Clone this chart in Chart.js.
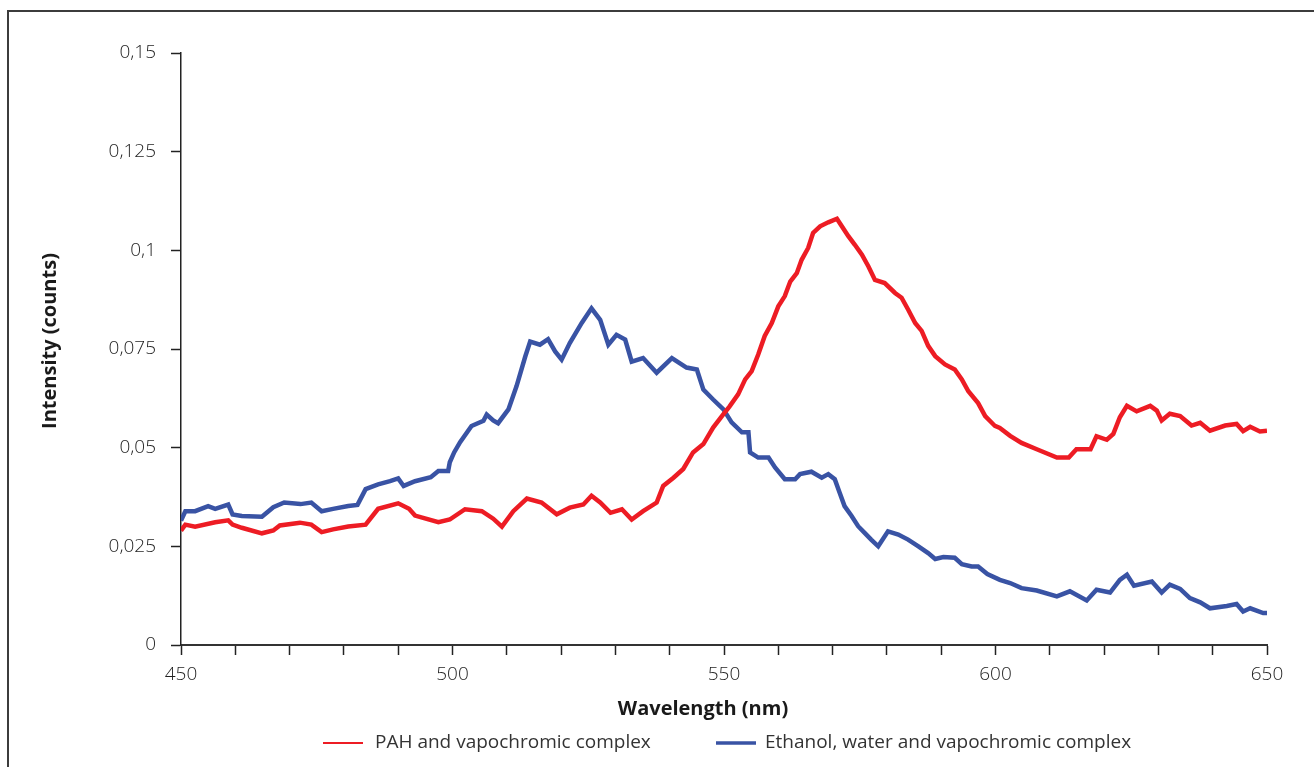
<!DOCTYPE html>
<html><head><meta charset="utf-8">
<script src="https://cdn.jsdelivr.net/npm/chart.js@4.4.0/dist/chart.umd.min.js"></script>
<style>html,body{margin:0;padding:0;background:#fff}canvas{display:block}</style>
</head><body>
<canvas id="c" width="1314" height="767"></canvas>
<script>
const seriesLabels = ['PAH and vapochromic complex', 'Ethanol, water and vapochromic complex'];
const xAxisTitle = 'Wavelength (nm)';
const yAxisTitle = 'Intensity (counts)';
const xLabeledTicks = [450, 500, 550, 600, 650];

const redWavelengths = [450.0,450.8,452.6,456.3,458.7,459.5,461.2,464.9,467.0,468.2,471.9,474.0,475.9,478.0,480.8,484.0,486.3,490.0,492.0,493.1,497.4,499.5,502.3,505.4,507.5,509.1,511.2,513.7,516.4,519.2,521.6,524.1,525.6,527.2,529.1,531.2,533.0,535.1,537.6,538.8,540.7,542.5,544.3,546.2,548.0,549.9,551.0,552.6,553.9,555.1,556.3,557.5,558.8,560.0,561.2,562.2,563.4,564.3,565.5,566.4,567.7,569.2,570.8,571.7,572.9,574.1,575.4,576.6,577.8,579.6,581.5,582.7,583.9,585.2,586.4,587.6,588.9,590.7,592.5,593.8,595.0,596.8,598.1,599.9,600.8,602.7,604.8,607.6,611.3,613.5,614.9,617.5,618.6,620.5,621.7,622.9,624.2,626.0,628.5,629.7,630.6,632.1,634.0,636.1,637.7,639.5,642.3,644.4,645.6,646.9,648.7,650.0];
const redValues = [0.0290,0.0305,0.0300,0.0311,0.0316,0.0305,0.0297,0.0283,0.0290,0.0303,0.0310,0.0305,0.0286,0.0293,0.0300,0.0305,0.0345,0.0359,0.0345,0.0328,0.0311,0.0318,0.0344,0.0339,0.0320,0.0300,0.0339,0.0371,0.0361,0.0331,0.0348,0.0356,0.0378,0.0361,0.0335,0.0344,0.0318,0.0339,0.0361,0.0403,0.0424,0.0446,0.0488,0.0509,0.0551,0.0585,0.0604,0.0635,0.0673,0.0694,0.0736,0.0783,0.0816,0.0858,0.0884,0.0921,0.0942,0.0976,0.1006,0.1044,0.1061,0.1071,0.1080,0.1061,0.1036,0.1014,0.0989,0.0959,0.0925,0.0917,0.0892,0.0880,0.0850,0.0816,0.0796,0.0758,0.0732,0.0711,0.0698,0.0673,0.0643,0.0613,0.0580,0.0555,0.0550,0.0530,0.0512,0.0496,0.0475,0.0475,0.0496,0.0496,0.0529,0.0520,0.0535,0.0577,0.0606,0.0592,0.0606,0.0594,0.0569,0.0586,0.0580,0.0556,0.0563,0.0543,0.0556,0.0560,0.0542,0.0553,0.0541,0.0543];

const blueWavelengths = [450.0,450.8,452.6,455.0,456.3,458.7,459.5,461.2,464.9,467.0,469.0,472.0,474.0,475.9,478.0,480.8,482.5,484.0,486.3,488.5,490.0,491.0,493.1,496.0,497.4,499.2,499.5,500.3,501.4,503.5,505.7,506.3,507.5,508.4,510.3,511.8,513.4,514.3,516.1,517.6,518.9,520.1,521.6,523.8,525.6,527.2,528.7,530.2,531.8,533.0,535.1,537.6,540.4,543.1,545.0,546.2,548.0,549.9,551.4,553.3,554.5,554.8,556.3,558.2,559.4,561.2,563.1,564.0,566.1,568.0,569.2,570.4,571.3,572.2,573.5,574.7,575.9,577.1,578.4,580.2,582.1,583.9,585.8,587.6,588.9,590.4,592.5,593.8,595.6,596.8,598.5,600.8,602.7,604.8,607.6,611.3,613.7,616.8,618.6,621.1,622.9,624.2,625.5,628.8,630.6,632.1,634.0,635.8,637.7,639.5,642.6,644.4,645.6,646.9,649.3,650.0];
const blueValues = [0.0315,0.0339,0.0339,0.0352,0.0345,0.0356,0.0331,0.0327,0.0325,0.0349,0.0361,0.0357,0.0361,0.0339,0.0345,0.0352,0.0355,0.0395,0.0407,0.0415,0.0422,0.0403,0.0415,0.0425,0.0441,0.0441,0.0463,0.0488,0.0514,0.0555,0.0568,0.0584,0.0569,0.0562,0.0597,0.0656,0.0731,0.0769,0.0761,0.0775,0.0744,0.0723,0.0765,0.0816,0.0853,0.0824,0.0761,0.0786,0.0774,0.0718,0.0727,0.0690,0.0727,0.0703,0.0698,0.0647,0.0622,0.0597,0.0564,0.0539,0.0539,0.0488,0.0475,0.0475,0.0450,0.0420,0.0420,0.0433,0.0439,0.0424,0.0433,0.0420,0.0386,0.0352,0.0327,0.0301,0.0284,0.0267,0.0250,0.0288,0.0280,0.0267,0.0250,0.0233,0.0218,0.0223,0.0221,0.0205,0.0199,0.0199,0.0180,0.0165,0.0157,0.0144,0.0138,0.0123,0.0136,0.0113,0.0140,0.0133,0.0165,0.0178,0.0150,0.0161,0.0133,0.0153,0.0142,0.0119,0.0108,0.0093,0.0099,0.0104,0.0085,0.0093,0.0081,0.0081];

const RED = '#ED1C24';
const BLUE = '#3953A4';
const TXT = '#1e1e1e';

function toPoints(xs, ys) { return xs.map((x, i) => ({x: x, y: ys[i]})); }

const decorPlugin = {
  id: 'decor',
  afterDraw(chart) {
    const ctx = chart.ctx;
    ctx.save();
    // frame
    ctx.strokeStyle = '#3c3c3c';
    ctx.lineWidth = 2;
    ctx.beginPath();
    ctx.moveTo(8, 767); ctx.lineTo(8, 11); ctx.lineTo(1314, 11);
    ctx.stroke();
    // axis titles
    ctx.fillStyle = '#1a1a1a';
    ctx.font = "bold 20px 'Open Sans'";
    ctx.textAlign = 'center';
    ctx.textBaseline = 'middle';
    ctx.fillText(xAxisTitle, 703, 709);
    ctx.save();
    ctx.translate(50, 341);
    ctx.rotate(-Math.PI / 2);
    ctx.fillText(yAxisTitle, 0, 0);
    ctx.restore();
    // legend
    const items = [
      {x0: 323, x1: 363, tx: 375, w: 2, ds: 0},
      {x0: 716, x1: 756, tx: 765, w: 3.5, ds: 1}
    ];
    ctx.font = "19px 'Open Sans'";
    ctx.textAlign = 'left';
    ctx.fillStyle = '#333333';
    items.forEach(it => {
      const ds = chart.data.datasets[it.ds];
      ctx.strokeStyle = ds.borderColor;
      ctx.lineWidth = it.w;
      ctx.beginPath();
      ctx.moveTo(it.x0, 743); ctx.lineTo(it.x1, 743);
      ctx.stroke();
      ctx.fillText(ds.label, it.tx, 743);
    });
    ctx.restore();
  }
};

new Chart(document.getElementById('c'), {
  type: 'line',
  data: {
    datasets: [
      {label: seriesLabels[0], data: toPoints(redWavelengths, redValues), borderColor: RED, backgroundColor: RED, borderWidth: 4.5, pointRadius: 0, tension: 0, fill: false},
      {label: seriesLabels[1], data: toPoints(blueWavelengths, blueValues), borderColor: BLUE, backgroundColor: BLUE, borderWidth: 4.5, pointRadius: 0, tension: 0, fill: false}
    ]
  },
  options: {
    responsive: false,
    animation: false,
    layout: {padding: {left: 0, top: 53, right: 47, bottom: 0}},
    plugins: {legend: {display: false}, tooltip: {enabled: false}},
    scales: {
      x: {
        type: 'linear', min: 450, max: 650,
        afterFit(s) { s.height = 122; },
        grid: {drawOnChartArea: false, drawTicks: true, tickLength: 10, tickColor: '#222', tickWidth: 1.5},
        border: {display: true, color: '#333', width: 2},
        ticks: {
          stepSize: 10, autoSkip: false, maxRotation: 0, padding: 8, color: TXT,
          font: {family: "'Open Sans'", size: 19, weight: 300},
          callback: v => xLabeledTicks.includes(Math.round(v)) ? String(Math.round(v)) : ''
        }
      },
      y: {
        min: 0, max: 0.15,
        afterFit(s) { s.width = 181; },
        grid: {drawOnChartArea: false, drawTicks: true, tickLength: 10, tickColor: '#222', tickWidth: 1.5},
        border: {display: true, color: '#222', width: 1.5},
        ticks: {
          stepSize: 0.025, padding: 15, color: TXT,
          font: {family: "'Open Sans'", size: 19, weight: 300},
          callback: v => String(Math.round(v * 1000) / 1000).replace('.', ',')
        }
      }
    }
  },
  plugins: [decorPlugin]
});
</script>
</body></html>
